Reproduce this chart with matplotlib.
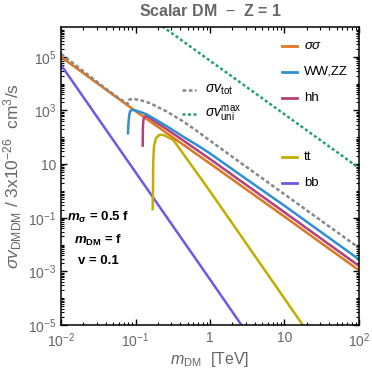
import matplotlib
matplotlib.use('Agg')
import matplotlib.pyplot as plt
import numpy as np

plt.rcParams['font.family'] = ['Liberation Sans', 'DejaVu Sans']
plt.rcParams['mathtext.fontset'] = 'custom'
plt.rcParams['mathtext.rm'] = 'Liberation Sans'
plt.rcParams['mathtext.it'] = 'Liberation Sans:italic'
plt.rcParams['mathtext.bf'] = 'Liberation Sans:bold'
plt.rcParams['mathtext.bfit'] = 'Liberation Sans:bold:italic'

# channel curves (m in TeV, sigma v / 3e-26 cm^3/s)
m_ss = [0.01, 0.1, 1, 10, 100]
v_ss = [1.0e5, 950, 10.5, 0.11, 1.1e-3]

m_ww = [0.0793, 0.0805, 0.0825, 0.085, 0.0889, 0.095, 0.105, 0.12, 0.141, 0.157,
        0.183, 0.262, 0.438, 0.734, 1, 3, 10, 100]
v_ww = [142, 350, 700, 950, 1050, 1040, 960, 850, 720, 600,
        470, 260, 105, 44, 25, 2.9, 0.28, 2.8e-3]

m_hh = [0.125, 0.1255, 0.127, 0.13, 0.135, 0.141, 0.157, 0.183, 0.262, 0.438, 1, 3, 10, 100]
v_hh = [49, 200, 400, 540, 610, 620, 510, 380, 200, 76, 15.5, 1.75, 0.16, 1.6e-3]

m_tt = [0.170, 0.172, 0.1725, 0.177, 0.188, 0.209, 0.236, 0.275, 0.321, 0.54, 0.903, 1.85, 20]
v_tt = [0.21, 1.45, 10.7, 45, 92, 123, 123, 100, 80, 10.7, 1.45, 0.083, 6e-6]

m_bb = [0.01, 0.1, 1, 3]
v_bb = [5e4, 5.0, 5e-4, 6e-6]

m_tot = [0.01, 0.02, 0.04, 0.06, 0.0793, 0.080, 0.082, 0.0933, 0.109, 0.127, 0.157,
         0.213, 0.262, 0.438, 0.662, 1, 3, 10, 100]
v_tot = [1.3e5, 2.9e4, 6500, 2850, 1750, 2300, 2550, 2700, 2500, 2280, 1870,
         1220, 920, 390, 175, 75, 8.3, 0.75, 7.5e-3]

m_uni = [0.1, 1, 10, 100]
v_uni = [7.2e6, 7.2e4, 720, 7.2]

xticks = [1e-2, 1e-1, 1, 10, 1e2]
xticklabels = [r'$10^{-2}$', r'$10^{-1}$', '1', '10', r'$10^{2}$']
yticks = [1e5, 1e3, 10, 1e-1, 1e-3, 1e-5]
yticklabels = [r'$10^{5}$', r'$10^{3}$', '10', r'$10^{-1}$', r'$10^{-3}$', r'$10^{-5}$']

c_ss = '#e0761f'
c_ww = '#2f8fd0'
c_hh = '#b5407a'
c_tt = '#c2ae00'
c_bb = '#7256e8'
c_tot = '#888888'
c_uni = '#22a077'
txt = '#666666'

fig = plt.figure(figsize=(3.72, 3.74), dpi=100)
ax = fig.add_axes([61/372, 49/374, 298/372, 298/374])

lw = 1.8
ax.plot(m_bb, v_bb, color=c_bb, lw=lw)
ax.plot(m_tt, v_tt, color=c_tt, lw=lw)
ax.plot(m_ss, v_ss, color=c_ss, lw=lw)
ax.plot(m_hh, v_hh, color=c_hh, lw=lw)
ax.plot(m_ww, v_ww, color=c_ww, lw=lw)
ax.plot(m_tot, v_tot, color=c_tot, lw=lw, ls=(0, (1.5, 1)))
ax.plot(m_uni, v_uni, color=c_uni, lw=lw, ls=(0, (1.2, 1)))

ax.set_xscale('log')
ax.set_yscale('log')
ax.set_xlim(1e-2, 1e2)
ax.set_ylim(1e-5, 1.3e6)

ax.set_xticks(xticks)
ax.set_xticklabels(xticklabels)
ax.set_yticks(yticks)
ax.set_yticklabels(yticklabels)
ax.yaxis.set_minor_locator(matplotlib.ticker.LogLocator(base=10, subs=np.arange(1, 10), numticks=30))
ax.yaxis.set_minor_formatter(matplotlib.ticker.NullFormatter())
ax.tick_params(which='both', direction='in', top=True, right=True, labelsize=10, labelcolor=txt)
ax.tick_params(axis='x', pad=4.5)
ax.tick_params(which='major', length=4, width=1)
ax.tick_params(which='minor', length=2, width=0.8)
for s in ax.spines.values():
    s.set_linewidth(1.1)

ax.set_xlabel(r'$m_{\rm DM}$  [TeV]', fontsize=11.5, color=txt, labelpad=0)
ax.set_ylabel(r'$\sigma v_{\rm DMDM}$ / 3x10$^{-26}$  cm$^3$/s', fontsize=12.5, color=txt, labelpad=3)
fig.text(210/372, 1 - 11/374, r'Scalar DM  $-$  Z = 1', ha='center', va='center',
         fontsize=11.5, fontweight='bold', color=txt)

# hand-made legend
tr = ax.transAxes
entries = [(0.936, c_ss, r'$\sigma\sigma$'), (0.849, c_ww, 'WW,ZZ'), (0.762, c_hh, 'hh'),
           (0.564, c_tt, 'tt'), (0.477, c_bb, 'bb')]
for fy, col, lab in entries:
    ax.plot([0.742, 0.792], [fy, fy], color=col, lw=2, transform=tr)
    ax.text(0.815, fy, lab, transform=tr, va='center', fontsize=9.5)
ax.plot([0.406, 0.453], [0.789, 0.789], color=c_tot, lw=lw, ls=(0, (1.5, 1)), transform=tr)
ax.text(0.483, 0.789, r'$\sigma v_{\rm tot}$', transform=tr, va='center', fontsize=10)
ax.plot([0.406, 0.453], [0.708, 0.708], color=c_uni, lw=lw, ls=(0, (1.2, 1)), transform=tr)
ax.text(0.483, 0.708, r'$\sigma v_{\rm uni}^{\rm max}$', transform=tr, va='center', fontsize=10)

ax.text(0.124, 0.362, r'$\mathbfit{m}_{\mathbf{\sigma}}$ = 0.5 f', transform=tr, ha='center', va='center',
        fontsize=9.5, fontweight='bold')
ax.text(0.124, 0.285, r'$\mathbfit{m}_{\mathbf{DM}}$ = f', transform=tr, ha='center', va='center',
        fontsize=9.5, fontweight='bold')
ax.text(0.124, 0.215, 'v = 0.1', transform=tr, ha='center', va='center',
        fontsize=9.5, fontweight='bold')

fig.savefig('out.png', dpi=100)
